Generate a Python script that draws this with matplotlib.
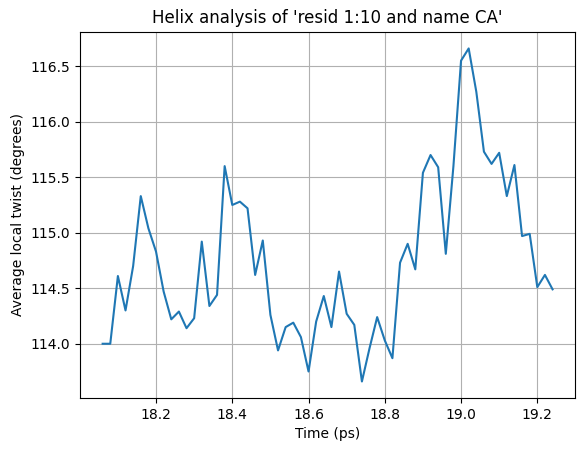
import numpy as np
import matplotlib
matplotlib.use("Agg")
import matplotlib.pyplot as plt

# time (ps) and average local twist (degrees)
time_ps = [18.06, 18.08, 18.10, 18.12, 18.14, 18.16, 18.18, 18.20, 18.22, 18.24,
           18.26, 18.28, 18.30, 18.32, 18.34, 18.36, 18.38, 18.40, 18.42, 18.44,
           18.46, 18.48, 18.50, 18.52, 18.54, 18.56, 18.58, 18.60, 18.62, 18.64,
           18.66, 18.68, 18.70, 18.72, 18.74, 18.76, 18.78, 18.80, 18.82, 18.84,
           18.86, 18.88, 18.90, 18.92, 18.94, 18.96, 18.98, 19.00, 19.02, 19.04,
           19.06, 19.08, 19.10, 19.12, 19.14, 19.16, 19.18, 19.20, 19.22, 19.24]
twist = [114.00, 114.00, 114.61, 114.30, 114.70, 115.33, 115.04, 114.83, 114.47, 114.22,
         114.29, 114.14, 114.23, 114.92, 114.34, 114.44, 115.60, 115.25, 115.28, 115.22,
         114.62, 114.93, 114.26, 113.94, 114.15, 114.19, 114.06, 113.75, 114.20, 114.43,
         114.15, 114.65, 114.27, 114.17, 113.66, 113.96, 114.24, 114.03, 113.87, 114.73,
         114.90, 114.67, 115.54, 115.70, 115.59, 114.81, 115.60, 116.55, 116.66, 116.27,
         115.73, 115.62, 115.72, 115.33, 115.61, 114.97, 114.99, 114.51, 114.62, 114.49]

fig, ax = plt.subplots(figsize=(5.85, 4.54), dpi=100)
fig.subplots_adjust(left=0.137, right=0.983, top=0.93, bottom=0.123)

ax.plot(time_ps, twist)
ax.set_xlabel('Time (ps)')
ax.set_ylabel('Average local twist (degrees)')
ax.set_title("Helix analysis of 'resid 1:10 and name CA'")
ax.grid(True)

plt.savefig('out.png', dpi=100)
